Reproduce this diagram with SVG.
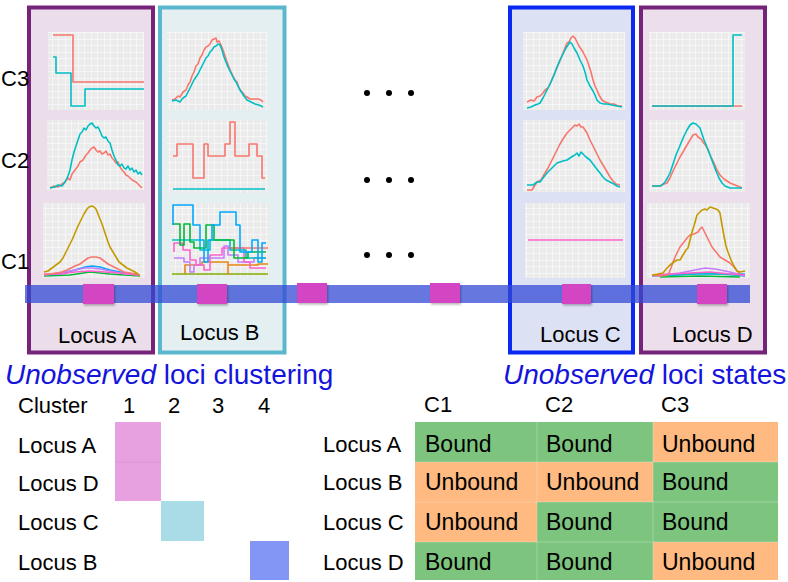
<svg xmlns="http://www.w3.org/2000/svg" width="788" height="582" viewBox="0 0 788 582">
<style>
text{font-family:"Liberation Sans",Arial,sans-serif;fill:#000}
.lab{font-size:22px}
.cell{font-size:23px}
.title{font-size:28px;fill:#1414DC}
.title tspan.it{font-style:italic;fill:#1414DC}
.box{stroke-width:4}
.panel{fill:url(#grid)}
.ln{fill:none;stroke-width:1.6;stroke-linejoin:round}
.r{stroke:#F8766D}
.t{stroke:#00BFC4}
.sq{fill:#D444C4}
.dot{fill:#000}
.sep{stroke:#FFFFFF;stroke-opacity:0.25;stroke-width:1}
.g{fill:#7DC47E}
.o{fill:#FEBA80}
</style>
<defs>
<pattern id="grid" patternUnits="userSpaceOnUse" width="13" height="13">
<rect width="13" height="13" fill="#EBEBEB"/>
<path d="M0 0V13M0 0H13" stroke="#FFFFFF" stroke-width="1"/>
<path d="M6.5 0V13M0 6.5H13" stroke="#FFFFFF" stroke-width="0.5"/>
</pattern>
<filter id="sh" x="-20%" y="-20%" width="150%" height="160%">
<feDropShadow dx="1" dy="1.5" stdDeviation="1" flood-color="#000" flood-opacity="0.3"/>
</filter>
</defs>
<rect width="788" height="582" fill="#FFFFFF"/>

<!-- Locus A -->
<g id="locusA">
<rect class="box" x="29" y="7.5" width="124" height="345" fill="#ECDDEB" stroke="#76237A"/>
<rect class="panel" x="48" y="32" width="96" height="78"/>
<polyline class="ln r" points="53,35 73,35 73,82 144,82"/>
<polyline class="ln t" points="53,57 56,57 56,73 71,73 71,106 85,106 85,89 144,89"/>
<rect class="panel" x="47" y="120" width="97" height="70"/>
<polyline class="ln r" points="50,188 54,186 58,187 62,184 65,182 68,178 70,180 72,174 75,170 78,166 80,162 83,160 86,155 88,153 90,150 92,148 94,147 96,150 98,152 100,151 102,154 104,153 106,151 108,155 110,154 112,158 114,160 116,163 118,162 120,167 122,170 124,172 126,175 128,176 130,178 132,180 134,181 136,182 138,184 140,186 142,188"/>
<polyline class="ln t" points="50,188 55,187 58,185 62,186 65,182 68,176 70,170 72,160 74,152 76,146 78,140 80,134 82,132 84,128 86,130 88,126 90,124 92,123 94,126 96,128 98,127 100,131 102,136 104,138 106,137 108,141 110,143 112,150 114,156 116,160 118,165 120,166 122,164 124,168 126,169 128,166 130,170 132,168 134,172 136,170 138,174 140,172 142,175"/>
<rect class="panel" x="43" y="203" width="102" height="75"/>
<polyline class="ln" stroke="#00BA38" points="44,276 70,275 90,272 110,274 140,276"/>
<polyline class="ln" stroke="#00A9FF" points="44,275 60,274 75,270 85,267 92,266 100,267 110,270 125,273 140,275"/>
<polyline class="ln" stroke="#C77CFF" points="44,275 60,273 75,270 85,268 92,268 100,269 110,271 125,274 140,275"/>
<polyline class="ln" stroke="#FF61CC" stroke-width="2" points="44,274 60,274 75,272 90,271 105,272 120,273 140,275"/>
<polyline class="ln r" points="44,275 50,274 56,273 62,272 67,270 71,268 75,266 80,264 84,261 88,258 92,257 96,257 100,258 104,261 108,264 112,266 118,269 124,272 130,273 136,274 140,276"/>
<polyline class="ln" stroke="#C49A00" points="44,272 48,271 52,268 56,265 60,262 63,258 66,252 69,246 72,240 75,233 78,226 81,220 84,214 87,209 89,207 92,206 94,207 96,209 98,214 100,219 102,224 104,230 106,236 108,242 110,247 113,252 116,257 119,262 123,265 127,268 131,270 135,272 139,275"/>
</g>

<!-- Locus B -->
<g id="locusB">
<rect class="box" x="160" y="7.5" width="124.5" height="345" fill="#E4EFF1" stroke="#5AB8CE"/>
<rect class="panel" x="167" y="32" width="100" height="78"/>
<polyline class="ln r" points="172,100 175,99 178,96 180,97 183,92 186,90 188,85 190,82 192,76 194,72 196,66 198,64 200,58 202,55 204,50 206,47 208,46 210,44 212,40 214,39 216,38 217,42 219,41 221,45 223,50 225,56 227,62 229,67 231,72 233,76 235,80 237,82 239,88 241,91 243,93 245,96 247,97 250,99 254,99 258,99 261,100 263,102"/>
<polyline class="ln t" points="172,101 176,100 180,102 183,98 186,96 188,92 190,88 192,84 194,80 196,77 198,74 200,70 202,66 204,62 206,58 208,56 210,52 212,50 214,47 216,46 218,44 220,45 222,50 224,57 226,62 228,67 230,71 232,75 234,79 236,82 238,86 240,90 242,93 244,96 247,100 251,102 255,104 259,105 263,107"/>
<rect class="panel" x="167" y="120" width="100" height="73"/>
<polyline class="ln r" points="173,156 177,156 177,144 193,144 193,178 204,178 204,144 208,144 208,156 225,156 225,144 230,144 230,122 235,122 235,156 249,156 249,144 257,144 257,156 262,156 262,178 265,178"/>
<polyline class="ln t" points="173,189 265,189"/>
<rect class="panel" x="170" y="203" width="99" height="74"/>
<polyline class="ln" stroke="#7CAE00" points="172,274 268,274"/>
<polyline class="ln" stroke="#E68613" points="185,274 185,265 202,265 202,262 228,262 228,274 228,265 258,265 258,264 268,264"/>
<polyline class="ln" stroke="#C77CFF" points="174,258 184,258 184,262 190,262 190,272 194,272 194,265 200,265 200,258 224,258 224,246 228,246 228,255 238,255 238,262 254,262 254,258 266,258"/>
<polyline class="ln" stroke="#FF61CC" points="174,252 174,243 183,243 183,250 190,250 190,260 196,260 196,265 204,265 204,270 210,270 210,255 222,255 222,248 244,248 244,262 250,262 250,268 266,268"/>
<polyline class="ln r" points="230,248 268,248"/>
<polyline class="ln" stroke="#00BFC4" points="172,240 200,240 200,250 210,250 210,240 230,240 230,250 246,250 246,258 266,258"/>
<polyline class="ln" stroke="#00BA38" points="172,224 180,224 180,245 184,245 184,224 190,224 190,242 194,242 194,248 206,248 206,225 214,225 214,240 234,240 234,258 248,258 248,252 266,252"/>
<polyline class="ln" stroke="#00A9FF" points="173,225 173,205 193,205 193,225 200,225 200,240 204,240 204,262 208,262 208,240 212,240 212,225 220,225 220,212 236,212 236,225 240,225 240,252 252,252 252,240 258,240 258,262 262,262 262,243 266,243"/>
</g>

<!-- Locus C -->
<g id="locusC">
<rect class="box" x="510" y="7.5" width="123" height="345" fill="#DCE1F4" stroke="#0A28F0"/>
<rect class="panel" x="523" y="32" width="102" height="78"/>
<polyline class="ln r" points="527,102 531,100 534,101 537,97 540,96 543,93 545,90 548,88 550,84 553,77 556,70 559,63 561,58 563,53 565,48 567,43 569,42 571,38 573,36 575,38 577,42 579,46 581,49 583,52 585,56 587,60 589,66 591,72 593,80 595,86 597,90 599,95 602,100 605,102 608,103 610,104 614,104 618,106 622,106"/>
<polyline class="ln t" points="527,108 531,107 535,105 538,104 540,103 543,98 545,94 548,88 551,82 554,75 557,67 560,60 563,54 566,48 568,45 570,42 572,44 574,48 577,53 580,60 583,66 585,72 587,80 590,86 593,91 595,95 597,100 600,103 604,104 607,104 612,105 617,106 622,107"/>
<rect class="panel" x="523" y="120" width="102" height="72"/>
<polyline class="ln r" points="527,190 532,190 537,182 541,180 545,173 548,168 551,162 554,156 557,150 560,144 563,139 565,136 567,133 570,130 572,128 575,125 577,126 579,124 581,127 583,127 585,130 587,133 590,140 593,146 596,152 600,160 603,165 606,170 610,177 613,181 616,184 620,185"/>
<polyline class="ln t" points="527,185 533,185 537,182 540,182 543,178 547,173 550,170 553,167 557,163 560,162 563,161 567,160 570,158 573,156 575,155 577,153 579,156 581,152 583,154 586,157 590,160 593,164 596,168 600,173 603,177 606,180 610,182 614,184 617,186 620,187"/>
<rect class="panel" x="525" y="203" width="100" height="75"/>
<polyline class="ln" stroke="#FF61CC" points="528,240 623,240"/>
</g>

<!-- Locus D -->
<g id="locusD">
<rect class="box" x="641" y="7.5" width="124" height="345" fill="#ECDEEB" stroke="#76237A"/>
<rect class="panel" x="649" y="32" width="96" height="78"/>
<polyline class="ln r" points="652,106 742,106"/>
<polyline class="ln t" points="652,106 733,106 733,35 742,35"/>
<rect class="panel" x="649" y="120" width="96" height="72"/>
<polyline class="ln r" points="652,186 660,186 664,184 667,183 670,178 673,171 677,163 680,157 683,152 687,145 690,140 693,135 696,134 698,137 701,139 703,142 706,146 708,150 711,157 714,163 717,170 720,175 724,179 727,181 730,183 735,185 740,187 742,188"/>
<polyline class="ln t" points="652,186 660,186 662,185 665,182 668,177 670,173 673,164 676,155 679,148 681,143 684,136 687,130 690,125 693,123 696,124 698,126 700,128 702,134 704,140 707,147 710,155 713,163 716,171 719,178 722,183 725,186 730,188 736,188 742,188"/>
<rect class="panel" x="647" y="203" width="103" height="75"/>
<polyline class="ln" stroke="#00BA38" points="660,277 700,276 740,277"/>
<polyline class="ln" stroke="#00A9FF" points="652,275 700,274 745,274"/>
<polyline class="ln" stroke="#00BFC4" points="652,276 680,275 700,273 720,274 745,276"/>
<polyline class="ln" stroke="#C77CFF" points="652,276 680,273 695,270 705,268 715,269 730,272 745,276"/>
<polyline class="ln" stroke="#FF61CC" points="652,275 690,273 710,272 730,274 745,275"/>
<polyline class="ln r" points="652,275 660,276 668,275 671,268 673,262 676,255 680,247 684,242 687,238 690,235 694,234 698,232 700,229 702,227 704,231 707,237 710,243 712,247 716,252 720,257 725,260 730,263 734,267 737,271 740,274"/>
<polyline class="ln" stroke="#C49A00" points="652,275 658,274 663,273 667,268 670,265 674,262 677,260 680,260 683,255 686,250 688,248 690,240 692,232 694,226 697,215 699,213 702,210 705,209 707,210 710,207 713,208 716,209 718,210 720,213 722,225 724,236 726,246 728,252 731,260 734,266 737,271 740,272 745,271"/>
</g>

<!-- Genome track -->
<g id="track">
<rect x="25" y="285" width="725" height="18" fill="#334AD6" fill-opacity="0.75"/>
<rect class="sq" x="83" y="284" width="31" height="20" filter="url(#sh)"/>
<rect class="sq" x="197" y="284" width="30" height="20" filter="url(#sh)"/>
<rect class="sq" x="297" y="283" width="30" height="20" filter="url(#sh)"/>
<rect class="sq" x="430" y="283" width="30" height="20" filter="url(#sh)"/>
<rect class="sq" x="562" y="284" width="29" height="20" filter="url(#sh)"/>
<rect class="sq" x="697" y="284" width="30" height="20" filter="url(#sh)"/>
</g>

<!-- Ellipsis dots -->
<g id="ellipsis">
<circle class="dot" cx="367" cy="93" r="3"/><circle class="dot" cx="389" cy="93" r="3"/><circle class="dot" cx="411" cy="93" r="3"/>
<circle class="dot" cx="367" cy="180" r="3"/><circle class="dot" cx="389" cy="180" r="3"/><circle class="dot" cx="411" cy="180" r="3"/>
<circle class="dot" cx="367" cy="255" r="3"/><circle class="dot" cx="389" cy="255" r="3"/><circle class="dot" cx="411" cy="255" r="3"/>
</g>

<!-- Labels -->
<g id="labels">
<text class="lab" x="1" y="86">C3</text>
<text class="lab" x="1" y="168">C2</text>
<text class="lab" x="1" y="269">C1</text>
<text class="lab" x="58" y="343">Locus A</text>
<text class="lab" x="180" y="340">Locus B</text>
<text class="lab" x="540" y="342">Locus C</text>
<text class="lab" x="672" y="342">Locus D</text>
</g>

<!-- Clustering table -->
<g id="clustering">
<text class="title" x="5" y="384"><tspan class="it">Unobserved</tspan> loci clustering</text>
<text class="lab" x="18" y="413">Cluster</text>
<text class="lab" x="129" y="413" text-anchor="middle">1</text>
<text class="lab" x="174" y="413" text-anchor="middle">2</text>
<text class="lab" x="218" y="413" text-anchor="middle">3</text>
<text class="lab" x="264" y="413" text-anchor="middle">4</text>
<rect x="115" y="422" width="46" height="40" fill="#E8A1E0"/>
<rect x="115" y="462" width="46" height="39" fill="#E8A1E0"/>
<line x1="115" y1="462" x2="161" y2="462" stroke="#D890D0" stroke-width="0.8"/>
<rect x="161" y="501" width="43" height="40" fill="#A9DCE7"/>
<rect x="250" y="541" width="39" height="39" fill="#8496F5"/>
<text class="lab" x="18" y="453">Locus A</text>
<text class="lab" x="18" y="491">Locus D</text>
<text class="lab" x="18" y="530">Locus C</text>
<text class="lab" x="18" y="570">Locus B</text>
</g>

<!-- States table -->
<g id="states">
<text class="title" x="503" y="384"><tspan class="it">Unobserved</tspan> loci states</text>
<text class="lab" x="424" y="412">C1</text>
<text class="lab" x="545" y="412">C2</text>
<text class="lab" x="661" y="412">C3</text>
<rect class="g" x="415" y="422" width="122" height="40"/>
<rect class="g" x="537" y="422" width="116" height="40"/>
<rect class="o" x="653" y="422" width="125" height="40"/>
<rect class="o" x="415" y="462" width="122" height="40"/>
<rect class="o" x="537" y="462" width="116" height="40"/>
<rect class="g" x="653" y="462" width="125" height="40"/>
<rect class="o" x="415" y="502" width="122" height="40"/>
<rect class="g" x="537" y="502" width="116" height="40"/>
<rect class="g" x="653" y="502" width="125" height="40"/>
<rect class="g" x="415" y="542" width="122" height="38"/>
<rect class="g" x="537" y="542" width="116" height="38"/>
<rect class="o" x="653" y="542" width="125" height="38"/>
<path class="sep" d="M537 422V580M653 422V580M415 462H778M415 502H778M415 542H778"/>
<text class="lab" x="323" y="452">Locus A</text>
<text class="lab" x="323" y="490">Locus B</text>
<text class="lab" x="323" y="530">Locus C</text>
<text class="lab" x="323" y="570">Locus D</text>
<text class="cell" x="425" y="452">Bound</text>
<text class="cell" x="546" y="452">Bound</text>
<text class="cell" x="662" y="452">Unbound</text>
<text class="cell" x="425" y="490">Unbound</text>
<text class="cell" x="546" y="490">Unbound</text>
<text class="cell" x="662" y="490">Bound</text>
<text class="cell" x="425" y="530">Unbound</text>
<text class="cell" x="546" y="530">Bound</text>
<text class="cell" x="662" y="530">Bound</text>
<text class="cell" x="425" y="570">Bound</text>
<text class="cell" x="546" y="570">Bound</text>
<text class="cell" x="662" y="570">Unbound</text>
</g>
</svg>
